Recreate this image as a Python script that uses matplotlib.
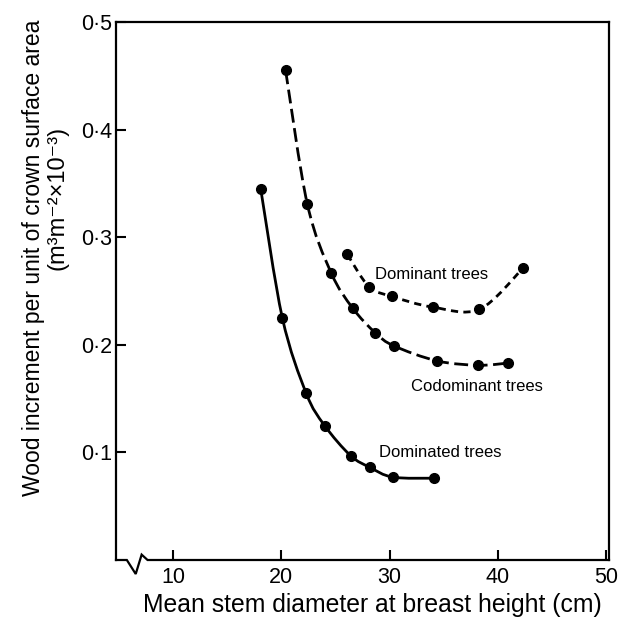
import numpy as np
import matplotlib
matplotlib.use('Agg')
import matplotlib.pyplot as plt
from matplotlib.path import Path
from matplotlib.patches import PathPatch

plt.rcParams['font.family'] = ['Liberation Sans', 'DejaVu Sans']

# Datos
dominados_x = [18.1, 20.1, 22.3, 24.0, 26.4, 28.2, 30.3, 34.1]
dominados_y = [0.345, 0.225, 0.155, 0.125, 0.097, 0.086, 0.077, 0.076]

codominantes_x = [20.4, 22.4, 24.6, 26.6, 28.7, 30.4, 34.4, 38.2, 40.9]
codominantes_y = [0.455, 0.331, 0.267, 0.234, 0.211, 0.199, 0.185, 0.181, 0.183]

dominantes_x = [26.1, 28.1, 30.2, 34.0, 38.3, 42.3]
dominantes_y = [0.284, 0.254, 0.245, 0.235, 0.233, 0.271]

x_ticks = [10, 20, 30, 40, 50]
y_ticks = [0.1, 0.2, 0.3, 0.4, 0.5]
y_tick_labels = ['0·1', '0·2', '0·3', '0·4', '0·5']


def curva_suave(xs, ys):
    # Catmull-Rom pasado a Bezier cubico para que matplotlib dibuje la curva
    p = np.column_stack([xs, ys])
    p = np.vstack([p[0], p, p[-1]])
    verts = [p[1]]
    codes = [Path.MOVETO]
    for i in range(1, len(p) - 2):
        c1 = p[i] + (p[i + 1] - p[i - 1]) / 6.0
        c2 = p[i + 1] - (p[i + 2] - p[i]) / 6.0
        verts += [c1, c2, p[i + 1]]
        codes += [Path.CURVE4] * 3
    return Path(verts, codes)


fig = plt.figure(figsize=(6.21, 6.27), dpi=100)
ax = fig.add_axes([116 / 621, 67 / 627, 493 / 621, 538 / 627])

lw = 2.0
ax.add_patch(PathPatch(curva_suave(dominados_x, dominados_y), fill=False,
                       lw=lw, color='black', linestyle='-'))
ax.add_patch(PathPatch(curva_suave(codominantes_x, codominantes_y), fill=False,
                       lw=lw, color='black', linestyle=(0, (5.0, 2.0))))
ax.add_patch(PathPatch(curva_suave(dominantes_x, dominantes_y), fill=False,
                       lw=lw, color='black', linestyle=(0, (2.6, 1.9))))

for xs, ys in [(dominados_x, dominados_y), (codominantes_x, codominantes_y),
               (dominantes_x, dominantes_y)]:
    ax.plot(xs, ys, 'o', color='black', markersize=7, linestyle='none')

ax.text(33.9, 0.265, 'Dominant trees', fontsize=12, ha='center', va='center')
ax.text(38.1, 0.161, 'Codominant trees', fontsize=12, ha='center', va='center')
ax.text(34.7, 0.0995, 'Dominated trees', fontsize=12, ha='center', va='center')

ax.set_xlim(4.74, 50.26)
ax.set_ylim(0, 0.5)
ax.set_xticks(x_ticks)
ax.set_yticks(y_ticks)
ax.set_yticklabels(y_tick_labels)
ax.tick_params(direction='in', length=7, width=1.5, labelsize=15.5)
ax.tick_params(axis='y', pad=3)
ax.tick_params(axis='x', pad=5)

for s in ['left', 'top', 'right']:
    ax.spines[s].set_linewidth(1.6)
ax.spines['bottom'].set_visible(False)

# eje x con el simbolo de corte
bx = [0.0, 0.022, 0.040, 0.052, 0.064, 1.0]
by = [0.0, 0.0, -0.026, 0.010, 0.0, 0.0]
ax.plot(bx, by, color='black', lw=1.6, transform=ax.transAxes, clip_on=False,
        solid_joinstyle='miter')

ax.set_xlabel('Mean stem diameter at breast height (cm)', fontsize=17.8)
ax.xaxis.set_label_coords(0.521, -0.062)
fig.text(34 / 621, 1 - 258 / 627, 'Wood increment per unit of crown surface area',
         rotation=90, fontsize=16.5, ha='center', va='center')
fig.text(58 / 621, 1 - 198 / 627, '(m³m⁻²×10⁻³)',
         rotation=90, fontsize=17, ha='center', va='center')

fig.savefig('out.png', dpi=100)
